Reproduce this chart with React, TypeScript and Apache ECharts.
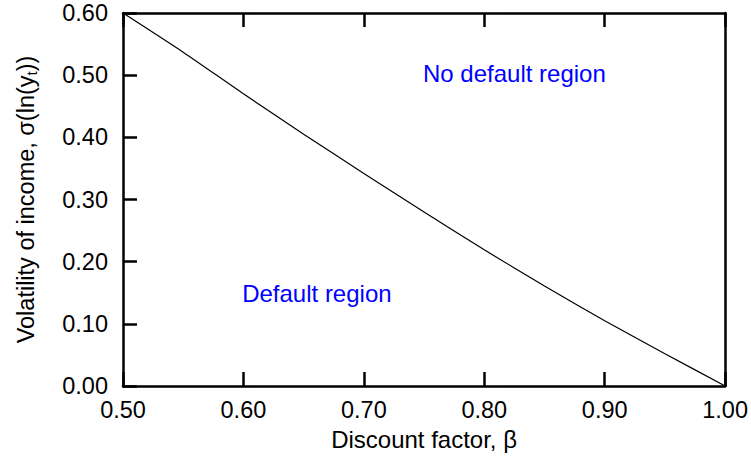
import React, { useEffect, useRef } from "react";
import * as echarts from "echarts";

const betaValues = [0.5, 0.55, 0.6, 0.65, 0.7, 0.75, 0.8, 0.85, 0.9, 0.95, 1.0];
const sigmaValues = [0.6, 0.537, 0.47, 0.405, 0.342, 0.28, 0.219, 0.161, 0.105, 0.052, 0.0];

const regionLabels = ["No default region", "Default region"];
const regionBeta = [0.825, 0.661];
const regionSigma = [0.502, 0.148];

const FONT = "'Liberation Sans', Arial, Helvetica, sans-serif";

const mkLine = () => ({ show: true, onZero: false, lineStyle: { color: "#000", width: 2.5 } });
const mkTick = () => ({ show: true, inside: true, length: 14, lineStyle: { color: "#000", width: 2.5 } });

export default function App() {
  const ref = useRef<HTMLDivElement>(null);
  useEffect(() => {
    if (!ref.current) return;
    const chart = echarts.init(ref.current, null, { renderer: "svg" });
    const label = { color: "#000", fontSize: 23.5, fontFamily: FONT };
    chart.setOption({
      animation: false,
      backgroundColor: "#fff",
      grid: { left: 123, right: 22, top: 13, bottom: 76 },
      xAxis: [
        {
          type: "value",
          min: 0.5,
          max: 1.0,
          interval: 0.1,
          position: "bottom",
          axisLine: mkLine(),
          axisTick: mkTick(),
          splitLine: { show: false },
          axisLabel: { ...label, margin: 12, formatter: (v: number) => v.toFixed(2) },
          name: "Discount factor, β",
          nameLocation: "middle",
          nameGap: 41,
          nameTextStyle: { color: "#000", fontSize: 24, fontFamily: FONT },
        },
        {
          type: "value",
          min: 0.5,
          max: 1.0,
          interval: 0.1,
          position: "top",
          axisLine: mkLine(),
          axisTick: mkTick(),
          splitLine: { show: false },
          axisLabel: { show: false },
        },
      ],
      yAxis: [
        {
          type: "value",
          min: 0,
          max: 0.6,
          interval: 0.1,
          position: "left",
          axisLine: mkLine(),
          axisTick: mkTick(),
          splitLine: { show: false },
          axisLabel: { ...label, margin: 15, formatter: (v: number) => v.toFixed(2) },
          name: "Volatility of income, σ(ln(y{sub|t}))",
          nameLocation: "middle",
          nameGap: 84,
          nameTextStyle: {
            color: "#000",
            fontSize: 23.5,
            fontFamily: FONT,
            lineHeight: 27,
            rich: {
              sub: { fontSize: 15, fontFamily: FONT, color: "#000", verticalAlign: "bottom", lineHeight: 15 },
            },
          },
        },
        {
          type: "value",
          min: 0,
          max: 0.6,
          interval: 0.1,
          position: "right",
          axisLine: mkLine(),
          axisTick: { show: false },
          splitLine: { show: false },
          axisLabel: { show: false },
        },
      ],
      series: [
        {
          type: "line",
          data: betaValues.map((b, i) => [b, sigmaValues[i]]),
          showSymbol: false,
          symbol: "none",
          smooth: 0.2,
          lineStyle: { color: "#000", width: 1.2 },
          xAxisIndex: 0,
          yAxisIndex: 0,
        },
        {
          type: "scatter",
          symbolSize: 0,
          itemStyle: { opacity: 1 },
          data: regionLabels.map((t, i) => ({ value: [regionBeta[i], regionSigma[i]], name: t })),
          label: {
            show: true,
            position: "inside",
            formatter: (p: any) => p.name,
            color: "#0000ff",
            opacity: 1,
            fontSize: 24,
            fontFamily: FONT,
          },
          xAxisIndex: 0,
          yAxisIndex: 0,
        },
      ],
    });
    return () => chart.dispose();
  }, []);
  return <div ref={ref} style={{ position: "fixed", left: 0, top: 0, width: 751, height: 462 }} />;
}
